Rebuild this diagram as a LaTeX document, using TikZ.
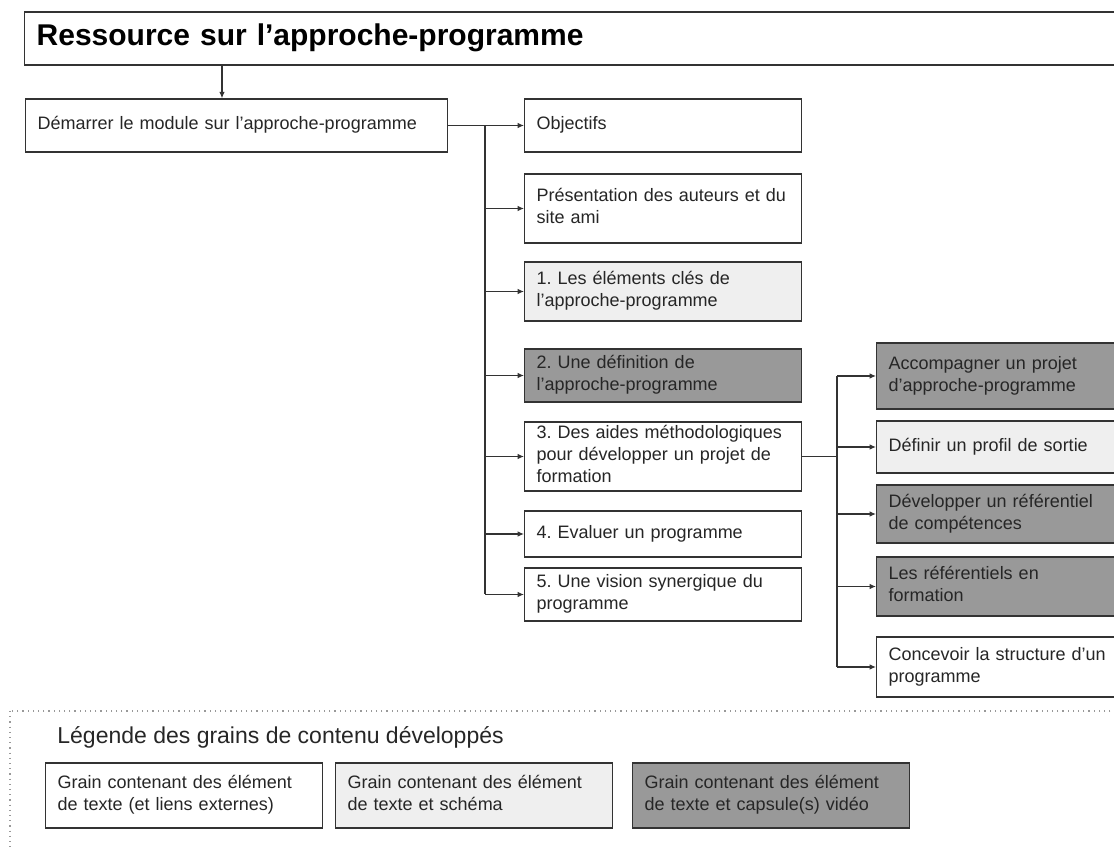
\documentclass[tikz,border=0pt]{standalone}
\usepackage{fontspec}
\setmainfont{Liberation Sans}
\usetikzlibrary{arrows.meta}
\definecolor{trait}{HTML}{333333}
\definecolor{clair}{HTML}{EFEFEF}
\definecolor{fonce}{HTML}{999999}
\frenchspacing
\begin{document}
\begin{tikzpicture}[x=0.5pt,y=-0.5pt,>={Latex[length=3.2pt,width=2.8pt]},
    boite/.style={draw=trait,line width=0.7pt,anchor=west,align=left,text width=126.5pt,
      inner xsep=6pt,inner ysep=0pt,font=\fontsize{9}{11}\selectfont,text=black!85,
      execute at begin node=\strut,execute at end node=\strut},
    texte/.style={boite,fill=white},
    schema/.style={boite,fill=clair},
    video/.style={boite,fill=fonce},
    lien/.style={draw=trait,line width=0.6pt}]
        \useasboundingbox (0,0) rectangle (1114,849);
        \clip (0,0) rectangle (1114,849);
        % titre et module
        \node [texte,text width=541pt,minimum height=26.5pt,font=\fontsize{15}{18}\selectfont\bfseries,text=black] (titre) at (24,38.5) {Ressource sur l’approche-programme};
        \node [texte,text width=199pt,minimum height=26.5pt] (dem) at (25,125.5) {Démarrer le module sur l'approche-programme};
        % colonne du milieu
        \node [texte,minimum height=26.5pt] (obj) at (524,125.5) {Objectifs};
        \node [texte,minimum height=34.5pt] (pres) at (524,208.5) {Présentation des auteurs et du\\site ami};
        \node [schema,minimum height=29.5pt] (cles) at (524,291.5) {1. Les éléments clés de\\l'approche-programme};
        \node [video,minimum height=26.5pt] (def) at (524,375.5) {2. Une définition de\\l'approche-programme};
        \node [texte,minimum height=34.5pt] (aides) at (524,456.5) {3. Des aides méthodologiques\\pour développer un projet de\\formation};
        \node [texte,minimum height=23pt] (eval) at (524,534) {4. Evaluer un programme};
        \node [texte,minimum height=26.5pt] (vis) at (524,594.5) {5. Une vision synergique du\\programme};
        % colonne de droite
        \node [video,minimum height=33pt] (acc) at (876,376) {Accompagner un projet\\d’approche-programme};
        \node [schema,minimum height=26pt] (prof) at (876,447) {Définir un profil de sortie};
        \node [video,minimum height=29pt] (refc) at (876,514) {Développer un référentiel\\de compétences};
        \node [video,minimum height=29.5pt] (reff) at (876,586.5) {Les référentiels en\\formation};
        \node [texte,minimum height=30pt] (conc) at (876,667) {Concevoir la structure d’un\\programme};
        % liens
        \coordinate (jt) at (222,0);
        \coordinate (ja) at (485,0);
        \coordinate (jb) at (837,0);
        \draw [lien,->] (jt |- titre.south) -- (jt |- dem.north);
        \draw [lien,->] (dem.east) -- (obj.west);
        \draw [lien] (ja |- obj.west) -- (ja |- vis.west);
        \foreach \n in {pres,cles,def,aides,eval,vis}
            \draw [lien,->] (ja |- \n.west) -- (\n.west);
        \draw [lien] (aides.east) -- (jb |- aides.east);
        \draw [lien] (jb |- acc.west) -- (jb |- conc.west);
        \foreach \n in {acc,prof,refc,reff,conc}
            \draw [lien,->] (jb |- \n.west) -- (\n.west);
        % legende
        \draw [dotted,line width=0.6pt,black!40] (10,711) rectangle (1140,880);
        \node [anchor=west,inner sep=0pt,font=\fontsize{11.5}{14}\selectfont,text=black!85] (leg) at (57,737) {Légende des grains de contenu développés};
        \node [texte,minimum height=32.5pt] (lega) at (45,795.5) {Grain contenant des élément\\de texte (et liens externes)};
        \node [schema,minimum height=32.5pt] (legb) at (335,795.5) {Grain contenant des élément\\de texte et schéma};
        \node [video,minimum height=32.5pt] (legc) at (632,795.5) {Grain contenant des élément\\de texte et capsule(s) vidéo};
\end{tikzpicture}
\end{document}
